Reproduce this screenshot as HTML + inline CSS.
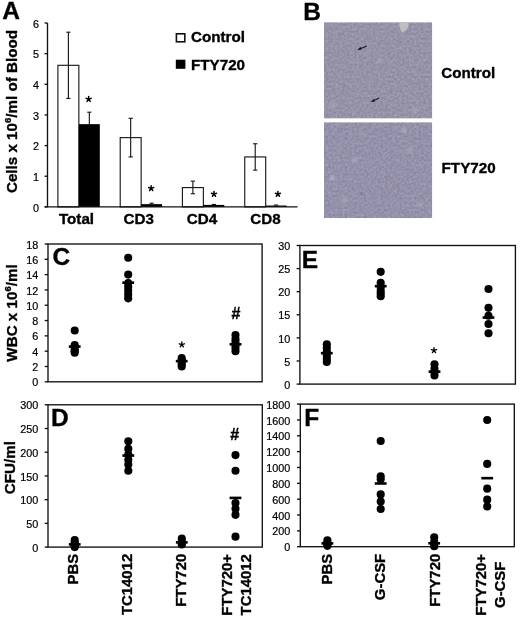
<!DOCTYPE html>
<html><head><meta charset="utf-8"><style>
html,body{margin:0;padding:0;background:#fff;}
svg{display:block;font-family:"Liberation Sans", sans-serif;filter:blur(0.35px);}
.b,.rb{stroke:#000;stroke-width:0.35px;}
.r{stroke:#000;stroke-width:0.2px;}
</style></head><body>
<svg width="520" height="622" viewBox="0 0 520 622">
<defs>
<filter id="tex" x="0" y="0" width="100%" height="100%" color-interpolation-filters="sRGB">
<feTurbulence type="fractalNoise" baseFrequency="0.42" numOctaves="3" seed="11" result="n"/>
<feColorMatrix in="n" type="matrix" values="1 0 0 0 0  1 0 0 0 0  1 0 0 0 0  0 0 0 0 1" result="g"/>
<feComposite in="SourceGraphic" in2="g" operator="arithmetic" k1="0" k2="1" k3="0.17" k4="-0.085" result="c"/>
<feComposite in="c" in2="SourceGraphic" operator="in"/>
</filter>
<filter id="bl2" x="-20%" y="-20%" width="140%" height="140%"><feGaussianBlur stdDeviation="0.5"/></filter>
<filter id="bl" x="-50%" y="-50%" width="200%" height="200%"><feGaussianBlur stdDeviation="0.8"/></filter>
</defs>
<rect width="520" height="622" fill="#fff"/>
<text x="2.20" y="19.00" font-size="24.5" text-anchor="start" font-weight="bold" class="b" >A</text>
<line x1="47.50" y1="23.00" x2="47.50" y2="206.90" stroke="#111" stroke-width="1.35"/>
<line x1="44.60" y1="206.90" x2="47.50" y2="206.90" stroke="#111" stroke-width="1.35"/>
<text x="39.00" y="211.50" font-size="10.8" text-anchor="end" class="r" >0</text>
<line x1="44.60" y1="176.25" x2="47.50" y2="176.25" stroke="#111" stroke-width="1.35"/>
<text x="39.00" y="180.85" font-size="10.8" text-anchor="end" class="r" >1</text>
<line x1="44.60" y1="145.60" x2="47.50" y2="145.60" stroke="#111" stroke-width="1.35"/>
<text x="39.00" y="150.20" font-size="10.8" text-anchor="end" class="r" >2</text>
<line x1="44.60" y1="114.95" x2="47.50" y2="114.95" stroke="#111" stroke-width="1.35"/>
<text x="39.00" y="119.55" font-size="10.8" text-anchor="end" class="r" >3</text>
<line x1="44.60" y1="84.30" x2="47.50" y2="84.30" stroke="#111" stroke-width="1.35"/>
<text x="39.00" y="88.90" font-size="10.8" text-anchor="end" class="r" >4</text>
<line x1="44.60" y1="53.65" x2="47.50" y2="53.65" stroke="#111" stroke-width="1.35"/>
<text x="39.00" y="58.25" font-size="10.8" text-anchor="end" class="r" >5</text>
<line x1="44.60" y1="23.00" x2="47.50" y2="23.00" stroke="#111" stroke-width="1.35"/>
<text x="39.00" y="27.60" font-size="10.8" text-anchor="end" class="r" >6</text>
<rect x="57.90" y="65.30" width="20.95" height="141.60" fill="#fff" stroke="#111" stroke-width="1.1"/>
<line x1="68.38" y1="32.20" x2="68.38" y2="98.40" stroke="#111" stroke-width="1.1"/>
<line x1="66.28" y1="98.40" x2="70.47" y2="98.40" stroke="#111" stroke-width="1.1"/>
<line x1="66.28" y1="32.20" x2="70.47" y2="32.20" stroke="#111" stroke-width="1.1"/>
<rect x="78.85" y="124.15" width="20.95" height="82.75" fill="#000"/>
<line x1="89.32" y1="112.19" x2="89.32" y2="124.15" stroke="#111" stroke-width="1.1"/>
<line x1="87.22" y1="112.19" x2="91.42" y2="112.19" stroke="#111" stroke-width="1.1"/>
<rect x="120.20" y="137.63" width="20.95" height="69.27" fill="#fff" stroke="#111" stroke-width="1.1"/>
<line x1="130.68" y1="118.32" x2="130.68" y2="156.94" stroke="#111" stroke-width="1.1"/>
<line x1="128.58" y1="156.94" x2="132.78" y2="156.94" stroke="#111" stroke-width="1.1"/>
<line x1="128.58" y1="118.32" x2="132.78" y2="118.32" stroke="#111" stroke-width="1.1"/>
<rect x="141.15" y="204.14" width="20.95" height="2.76" fill="#000"/>
<line x1="151.62" y1="203.22" x2="151.62" y2="204.14" stroke="#111" stroke-width="1.1"/>
<line x1="149.53" y1="203.22" x2="153.72" y2="203.22" stroke="#111" stroke-width="1.1"/>
<rect x="182.40" y="187.59" width="20.95" height="19.31" fill="#fff" stroke="#111" stroke-width="1.1"/>
<line x1="192.88" y1="181.15" x2="192.88" y2="193.72" stroke="#111" stroke-width="1.1"/>
<line x1="190.78" y1="193.72" x2="194.97" y2="193.72" stroke="#111" stroke-width="1.1"/>
<line x1="190.78" y1="181.15" x2="194.97" y2="181.15" stroke="#111" stroke-width="1.1"/>
<rect x="203.35" y="204.91" width="20.95" height="1.99" fill="#000"/>
<line x1="213.82" y1="204.45" x2="213.82" y2="204.91" stroke="#111" stroke-width="1.1"/>
<line x1="211.72" y1="204.45" x2="215.92" y2="204.45" stroke="#111" stroke-width="1.1"/>
<rect x="244.75" y="156.94" width="20.95" height="49.96" fill="#fff" stroke="#111" stroke-width="1.1"/>
<line x1="255.22" y1="143.76" x2="255.22" y2="170.12" stroke="#111" stroke-width="1.1"/>
<line x1="253.12" y1="170.12" x2="257.32" y2="170.12" stroke="#111" stroke-width="1.1"/>
<line x1="253.12" y1="143.76" x2="257.32" y2="143.76" stroke="#111" stroke-width="1.1"/>
<rect x="265.70" y="205.52" width="20.95" height="1.38" fill="#000"/>
<line x1="276.18" y1="205.06" x2="276.18" y2="205.52" stroke="#111" stroke-width="1.1"/>
<line x1="274.07" y1="205.06" x2="278.28" y2="205.06" stroke="#111" stroke-width="1.1"/>
<line x1="44.60" y1="206.90" x2="297.60" y2="206.90" stroke="#111" stroke-width="1.4"/>
<path d="M88.65 99.20L88.65 96.55M88.65 99.20L91.17 98.38M88.65 99.20L90.21 101.34M88.65 99.20L87.09 101.34M88.65 99.20L86.13 98.38" stroke="#000" stroke-width="1.5" stroke-linecap="round" fill="none"/>
<path d="M151.15 188.40L151.15 185.75M151.15 188.40L153.67 187.58M151.15 188.40L152.71 190.54M151.15 188.40L149.59 190.54M151.15 188.40L148.63 187.58" stroke="#000" stroke-width="1.5" stroke-linecap="round" fill="none"/>
<path d="M214.00 194.10L214.00 191.45M214.00 194.10L216.52 193.28M214.00 194.10L215.56 196.24M214.00 194.10L212.44 196.24M214.00 194.10L211.48 193.28" stroke="#000" stroke-width="1.5" stroke-linecap="round" fill="none"/>
<path d="M277.90 194.10L277.90 191.45M277.90 194.10L280.42 193.28M277.90 194.10L279.46 196.24M277.90 194.10L276.34 196.24M277.90 194.10L275.38 193.28" stroke="#000" stroke-width="1.5" stroke-linecap="round" fill="none"/>
<text x="76.50" y="223.90" font-size="15.2" text-anchor="middle" font-weight="bold" class="b" >Total</text>
<text x="138.70" y="223.90" font-size="15.2" text-anchor="middle" font-weight="bold" class="b" >CD3</text>
<text x="201.90" y="223.90" font-size="15.2" text-anchor="middle" font-weight="bold" class="b" >CD4</text>
<text x="265.40" y="223.90" font-size="15.2" text-anchor="middle" font-weight="bold" class="b" >CD8</text>
<rect x="176.4" y="33.8" width="8.4" height="8.0" fill="#fff" stroke="#111" stroke-width="1.6"/>
<rect x="175.8" y="59.7" width="9.6" height="9.1" fill="#000"/>
<text x="191.00" y="42.30" font-size="15.2" text-anchor="start" font-weight="bold" class="b" >Control</text>
<text x="191.00" y="69.60" font-size="15.2" text-anchor="start" font-weight="bold" class="b" >FTY720</text>
<text transform="translate(17.2,111.5) rotate(-90)" font-size="15.2" font-weight="bold" class="rb" text-anchor="middle">Cells x 10<tspan font-size="9.5" dy="-6">6</tspan><tspan dy="6">/ml of Blood</tspan></text>
<text x="303.20" y="19.60" font-size="24.5" text-anchor="start" font-weight="bold" class="b" >B</text>
<rect x="324" y="22.3" width="108.2" height="96.2" fill="#9693a8" filter="url(#tex)"/>
<rect x="324" y="122.3" width="108.2" height="95.8" fill="#9492aa" filter="url(#tex)"/>
<circle cx="339.6" cy="34.5" r="1.6" fill="#9a7a88" filter="url(#bl)"/>
<circle cx="398.5" cy="40.5" r="1.5" fill="#9c7f8c" filter="url(#bl)"/>
<circle cx="396.5" cy="46" r="1.3" fill="#a08595" filter="url(#bl)"/>
<circle cx="348.9" cy="71.8" r="1.4" fill="#9a8092" filter="url(#bl)"/>
<circle cx="343.7" cy="86.4" r="1.6" fill="#997b8a" filter="url(#bl)"/>
<circle cx="418.5" cy="82.2" r="1.5" fill="#9c7f8e" filter="url(#bl)"/>
<circle cx="386.3" cy="109.2" r="1.4" fill="#9a8192" filter="url(#bl)"/>
<circle cx="386.3" cy="178.1" r="1.5" fill="#997b8a" filter="url(#bl)"/>
<circle cx="395.6" cy="185.3" r="1.5" fill="#9b7d8b" filter="url(#bl)"/>
<circle cx="372" cy="72" r="1.3" fill="#a08797" filter="url(#bl)"/>
<circle cx="404" cy="130.3" r="2.0" fill="#b3b2c4" filter="url(#bl)"/>
<circle cx="332.3" cy="178" r="2.2" fill="#b2b1c3" filter="url(#bl)"/>
<circle cx="362.4" cy="135.5" r="2.0" fill="#b0afc1" filter="url(#bl)"/>
<circle cx="338.5" cy="146.9" r="2.0" fill="#b0afc1" filter="url(#bl)"/>
<circle cx="355" cy="160" r="2.5" fill="#a6a5ba" filter="url(#bl)"/>
<circle cx="410" cy="150" r="2.5" fill="#a5a4b9" filter="url(#bl)"/>
<circle cx="345" cy="200" r="2.5" fill="#a6a5ba" filter="url(#bl)"/>
<circle cx="420" cy="205" r="2.2" fill="#a5a4b9" filter="url(#bl)"/>
<circle cx="380" cy="60" r="2.5" fill="#a5a3b7" filter="url(#bl)"/>
<circle cx="333" cy="105" r="3" fill="#a3a2b0" filter="url(#bl)"/>
<circle cx="415" cy="110" r="2.5" fill="#a4a3b8" filter="url(#bl)"/>
<circle cx="362.4" cy="136" r="1.1" fill="#5a5a68" filter="url(#bl)"/>
<circle cx="338.5" cy="147.2" r="1.1" fill="#5a5a68" filter="url(#bl)"/>
<circle cx="361.4" cy="193.7" r="1.1" fill="#5a5a68" filter="url(#bl)"/>
<path d="M399.3 22.3 L408.6 22.3 C408.8 26 407.6 29 405.5 30.5 C404.2 31.5 403 32.6 402.2 32.4 C400.2 30 399 26 399.3 22.3 Z" fill="#bcc0c0" filter="url(#bl2)"/>
<line x1="366.80" y1="45.90" x2="359.51" y2="48.94" stroke="#1a1a1a" stroke-width="1.1"/>
<path d="M357.20 49.90L360.54 46.99L361.62 49.58Z" fill="#111"/>
<line x1="379.20" y1="98.10" x2="372.87" y2="101.05" stroke="#1a1a1a" stroke-width="1.1"/>
<path d="M370.60 102.10L373.82 99.06L375.00 101.60Z" fill="#111"/>
<text x="441.20" y="77.80" font-size="15.2" text-anchor="start" font-weight="bold" class="b" >Control</text>
<text x="441.60" y="172.50" font-size="15.2" text-anchor="start" font-weight="bold" class="b" >FTY720</text>
<rect x="48.0" y="244.0" width="214.10" height="137.80" fill="none" stroke="#111" stroke-width="1.35"/>
<line x1="44.70" y1="381.80" x2="48.00" y2="381.80" stroke="#111" stroke-width="1.35"/>
<text x="38.30" y="386.40" font-size="10.8" text-anchor="end" class="r" >0</text>
<line x1="44.70" y1="366.49" x2="48.00" y2="366.49" stroke="#111" stroke-width="1.35"/>
<text x="38.30" y="371.09" font-size="10.8" text-anchor="end" class="r" >2</text>
<line x1="44.70" y1="351.18" x2="48.00" y2="351.18" stroke="#111" stroke-width="1.35"/>
<text x="38.30" y="355.78" font-size="10.8" text-anchor="end" class="r" >4</text>
<line x1="44.70" y1="335.87" x2="48.00" y2="335.87" stroke="#111" stroke-width="1.35"/>
<text x="38.30" y="340.47" font-size="10.8" text-anchor="end" class="r" >6</text>
<line x1="44.70" y1="320.56" x2="48.00" y2="320.56" stroke="#111" stroke-width="1.35"/>
<text x="38.30" y="325.16" font-size="10.8" text-anchor="end" class="r" >8</text>
<line x1="44.70" y1="305.24" x2="48.00" y2="305.24" stroke="#111" stroke-width="1.35"/>
<text x="38.30" y="309.84" font-size="10.8" text-anchor="end" class="r" >10</text>
<line x1="44.70" y1="289.93" x2="48.00" y2="289.93" stroke="#111" stroke-width="1.35"/>
<text x="38.30" y="294.53" font-size="10.8" text-anchor="end" class="r" >12</text>
<line x1="44.70" y1="274.62" x2="48.00" y2="274.62" stroke="#111" stroke-width="1.35"/>
<text x="38.30" y="279.22" font-size="10.8" text-anchor="end" class="r" >14</text>
<line x1="44.70" y1="259.31" x2="48.00" y2="259.31" stroke="#111" stroke-width="1.35"/>
<text x="38.30" y="263.91" font-size="10.8" text-anchor="end" class="r" >16</text>
<line x1="44.70" y1="244.00" x2="48.00" y2="244.00" stroke="#111" stroke-width="1.35"/>
<text x="38.30" y="248.60" font-size="10.8" text-anchor="end" class="r" >18</text>
<text x="52.40" y="265.20" font-size="24.5" text-anchor="start" font-weight="bold" class="b" >C</text>
<circle cx="74.7" cy="330.51" r="4.05"/>
<circle cx="74.7" cy="345.05" r="4.05"/>
<circle cx="74.7" cy="347.35" r="4.05"/>
<circle cx="74.7" cy="349.65" r="4.05"/>
<circle cx="74.7" cy="351.18" r="4.05"/>
<circle cx="74.7" cy="352.71" r="4.05"/>
<rect x="68.80" y="345.28" width="11.8" height="2.6"/>
<circle cx="128.2" cy="257.78" r="4.05"/>
<circle cx="128.2" cy="274.62" r="4.05"/>
<circle cx="128.2" cy="283.04" r="4.05"/>
<circle cx="128.2" cy="286.87" r="4.05"/>
<circle cx="128.2" cy="290.70" r="4.05"/>
<circle cx="128.2" cy="294.53" r="4.05"/>
<circle cx="128.2" cy="298.35" r="4.05"/>
<rect x="122.30" y="281.36" width="11.8" height="2.6"/>
<circle cx="181.7" cy="358.07" r="4.05"/>
<circle cx="181.7" cy="359.60" r="4.05"/>
<circle cx="181.7" cy="361.90" r="4.05"/>
<circle cx="181.7" cy="364.19" r="4.05"/>
<circle cx="181.7" cy="366.49" r="4.05"/>
<rect x="175.80" y="359.83" width="11.8" height="2.6"/>
<circle cx="235.5" cy="335.10" r="4.05"/>
<circle cx="235.5" cy="338.93" r="4.05"/>
<circle cx="235.5" cy="341.99" r="4.05"/>
<circle cx="235.5" cy="345.05" r="4.05"/>
<circle cx="235.5" cy="348.12" r="4.05"/>
<circle cx="235.5" cy="351.18" r="4.05"/>
<rect x="229.60" y="342.99" width="11.8" height="2.6"/>
<path d="M181.80 344.60L181.80 341.90M181.80 344.60L184.37 343.77M181.80 344.60L183.39 346.78M181.80 344.60L180.21 346.78M181.80 344.60L179.23 343.77" stroke="#000" stroke-width="1.35" stroke-linecap="round" fill="none"/>
<text x="236.05" y="318.60" font-size="16" text-anchor="middle" font-weight="bold" class="b" >#</text>
<rect x="299.9" y="245.5" width="215.50" height="138.60" fill="none" stroke="#111" stroke-width="1.35"/>
<line x1="296.60" y1="384.10" x2="299.90" y2="384.10" stroke="#111" stroke-width="1.35"/>
<text x="290.20" y="388.70" font-size="10.8" text-anchor="end" class="r" >0</text>
<line x1="296.60" y1="361.00" x2="299.90" y2="361.00" stroke="#111" stroke-width="1.35"/>
<text x="290.20" y="365.60" font-size="10.8" text-anchor="end" class="r" >5</text>
<line x1="296.60" y1="337.90" x2="299.90" y2="337.90" stroke="#111" stroke-width="1.35"/>
<text x="290.20" y="342.50" font-size="10.8" text-anchor="end" class="r" >10</text>
<line x1="296.60" y1="314.80" x2="299.90" y2="314.80" stroke="#111" stroke-width="1.35"/>
<text x="290.20" y="319.40" font-size="10.8" text-anchor="end" class="r" >15</text>
<line x1="296.60" y1="291.70" x2="299.90" y2="291.70" stroke="#111" stroke-width="1.35"/>
<text x="290.20" y="296.30" font-size="10.8" text-anchor="end" class="r" >20</text>
<line x1="296.60" y1="268.60" x2="299.90" y2="268.60" stroke="#111" stroke-width="1.35"/>
<text x="290.20" y="273.20" font-size="10.8" text-anchor="end" class="r" >25</text>
<line x1="296.60" y1="245.50" x2="299.90" y2="245.50" stroke="#111" stroke-width="1.35"/>
<text x="290.20" y="250.10" font-size="10.8" text-anchor="end" class="r" >30</text>
<text x="301.70" y="267.60" font-size="24.5" text-anchor="start" font-weight="bold" class="b" >E</text>
<circle cx="326.8" cy="344.37" r="4.05"/>
<circle cx="326.8" cy="348.06" r="4.05"/>
<circle cx="326.8" cy="351.76" r="4.05"/>
<circle cx="326.8" cy="355.46" r="4.05"/>
<circle cx="326.8" cy="358.69" r="4.05"/>
<circle cx="326.8" cy="361.92" r="4.05"/>
<rect x="320.90" y="351.85" width="11.8" height="2.6"/>
<circle cx="380.7" cy="271.83" r="4.05"/>
<circle cx="380.7" cy="282.92" r="4.05"/>
<circle cx="380.7" cy="287.08" r="4.05"/>
<circle cx="380.7" cy="290.78" r="4.05"/>
<circle cx="380.7" cy="293.55" r="4.05"/>
<circle cx="380.7" cy="296.32" r="4.05"/>
<rect x="374.80" y="284.86" width="11.8" height="2.6"/>
<circle cx="434.5" cy="364.23" r="4.05"/>
<circle cx="434.5" cy="368.85" r="4.05"/>
<circle cx="434.5" cy="372.09" r="4.05"/>
<circle cx="434.5" cy="375.55" r="4.05"/>
<rect x="428.60" y="370.33" width="11.8" height="2.6"/>
<circle cx="488.5" cy="288.93" r="4.05"/>
<circle cx="488.5" cy="307.87" r="4.05"/>
<circle cx="488.5" cy="315.72" r="4.05"/>
<circle cx="488.5" cy="324.04" r="4.05"/>
<circle cx="488.5" cy="333.28" r="4.05"/>
<rect x="482.60" y="316.27" width="11.8" height="2.6"/>
<path d="M434.00 350.40L434.00 347.70M434.00 350.40L436.57 349.57M434.00 350.40L435.59 352.58M434.00 350.40L432.41 352.58M434.00 350.40L431.43 349.57" stroke="#000" stroke-width="1.35" stroke-linecap="round" fill="none"/>
<rect x="48.0" y="404.8" width="214.30" height="142.30" fill="none" stroke="#111" stroke-width="1.35"/>
<line x1="44.70" y1="547.10" x2="48.00" y2="547.10" stroke="#111" stroke-width="1.35"/>
<text x="38.30" y="551.70" font-size="10.8" text-anchor="end" class="r" >0</text>
<line x1="44.70" y1="523.38" x2="48.00" y2="523.38" stroke="#111" stroke-width="1.35"/>
<text x="38.30" y="527.98" font-size="10.8" text-anchor="end" class="r" >50</text>
<line x1="44.70" y1="499.67" x2="48.00" y2="499.67" stroke="#111" stroke-width="1.35"/>
<text x="38.30" y="504.27" font-size="10.8" text-anchor="end" class="r" >100</text>
<line x1="44.70" y1="475.95" x2="48.00" y2="475.95" stroke="#111" stroke-width="1.35"/>
<text x="38.30" y="480.55" font-size="10.8" text-anchor="end" class="r" >150</text>
<line x1="44.70" y1="452.23" x2="48.00" y2="452.23" stroke="#111" stroke-width="1.35"/>
<text x="38.30" y="456.83" font-size="10.8" text-anchor="end" class="r" >200</text>
<line x1="44.70" y1="428.52" x2="48.00" y2="428.52" stroke="#111" stroke-width="1.35"/>
<text x="38.30" y="433.12" font-size="10.8" text-anchor="end" class="r" >250</text>
<line x1="44.70" y1="404.80" x2="48.00" y2="404.80" stroke="#111" stroke-width="1.35"/>
<text x="38.30" y="409.40" font-size="10.8" text-anchor="end" class="r" >300</text>
<text x="50.90" y="426.20" font-size="24.5" text-anchor="start" font-weight="bold" class="b" >D</text>
<circle cx="74.7" cy="539.99" r="4.05"/>
<circle cx="74.7" cy="542.36" r="4.05"/>
<circle cx="74.7" cy="544.73" r="4.05"/>
<circle cx="74.7" cy="546.15" r="4.05"/>
<circle cx="74.7" cy="547.10" r="4.05"/>
<rect x="68.80" y="543.10" width="11.8" height="2.6"/>
<circle cx="128.3" cy="441.32" r="4.05"/>
<circle cx="128.3" cy="448.91" r="4.05"/>
<circle cx="128.3" cy="454.61" r="4.05"/>
<circle cx="128.3" cy="459.82" r="4.05"/>
<circle cx="128.3" cy="464.57" r="4.05"/>
<circle cx="128.3" cy="470.73" r="4.05"/>
<rect x="122.40" y="454.25" width="11.8" height="2.6"/>
<circle cx="181.8" cy="538.56" r="4.05"/>
<circle cx="181.8" cy="541.41" r="4.05"/>
<circle cx="181.8" cy="543.31" r="4.05"/>
<circle cx="181.8" cy="544.40" r="4.05"/>
<rect x="175.90" y="541.06" width="11.8" height="2.6"/>
<circle cx="235.5" cy="455.08" r="4.05"/>
<circle cx="235.5" cy="470.73" r="4.05"/>
<circle cx="235.5" cy="502.99" r="4.05"/>
<circle cx="235.5" cy="508.68" r="4.05"/>
<circle cx="235.5" cy="514.85" r="4.05"/>
<circle cx="235.5" cy="536.66" r="4.05"/>
<rect x="229.60" y="496.61" width="11.8" height="2.6"/>
<text x="234.75" y="440.40" font-size="16" text-anchor="middle" font-weight="bold" class="b" >#</text>
<rect x="300.3" y="404.1" width="214.00" height="142.60" fill="none" stroke="#111" stroke-width="1.35"/>
<line x1="297.00" y1="546.70" x2="300.30" y2="546.70" stroke="#111" stroke-width="1.35"/>
<text x="290.20" y="551.30" font-size="10.8" text-anchor="end" class="r" >0</text>
<line x1="297.00" y1="530.86" x2="300.30" y2="530.86" stroke="#111" stroke-width="1.35"/>
<text x="290.20" y="535.46" font-size="10.8" text-anchor="end" class="r" >200</text>
<line x1="297.00" y1="515.01" x2="300.30" y2="515.01" stroke="#111" stroke-width="1.35"/>
<text x="290.20" y="519.61" font-size="10.8" text-anchor="end" class="r" >400</text>
<line x1="297.00" y1="499.17" x2="300.30" y2="499.17" stroke="#111" stroke-width="1.35"/>
<text x="290.20" y="503.77" font-size="10.8" text-anchor="end" class="r" >600</text>
<line x1="297.00" y1="483.32" x2="300.30" y2="483.32" stroke="#111" stroke-width="1.35"/>
<text x="290.20" y="487.92" font-size="10.8" text-anchor="end" class="r" >800</text>
<line x1="297.00" y1="467.48" x2="300.30" y2="467.48" stroke="#111" stroke-width="1.35"/>
<text x="290.20" y="472.08" font-size="10.8" text-anchor="end" class="r" >1000</text>
<line x1="297.00" y1="451.63" x2="300.30" y2="451.63" stroke="#111" stroke-width="1.35"/>
<text x="290.20" y="456.23" font-size="10.8" text-anchor="end" class="r" >1200</text>
<line x1="297.00" y1="435.79" x2="300.30" y2="435.79" stroke="#111" stroke-width="1.35"/>
<text x="290.20" y="440.39" font-size="10.8" text-anchor="end" class="r" >1400</text>
<line x1="297.00" y1="419.94" x2="300.30" y2="419.94" stroke="#111" stroke-width="1.35"/>
<text x="290.20" y="424.54" font-size="10.8" text-anchor="end" class="r" >1600</text>
<line x1="297.00" y1="404.10" x2="300.30" y2="404.10" stroke="#111" stroke-width="1.35"/>
<text x="290.20" y="408.70" font-size="10.8" text-anchor="end" class="r" >1800</text>
<text x="304.30" y="426.10" font-size="24.5" text-anchor="start" font-weight="bold" class="b" >F</text>
<circle cx="327.4" cy="540.36" r="4.05"/>
<circle cx="327.4" cy="542.74" r="4.05"/>
<circle cx="327.4" cy="544.32" r="4.05"/>
<circle cx="327.4" cy="545.83" r="4.05"/>
<rect x="321.50" y="542.07" width="11.8" height="2.6"/>
<circle cx="380.7" cy="440.94" r="4.05"/>
<circle cx="380.7" cy="476.19" r="4.05"/>
<circle cx="380.7" cy="479.36" r="4.05"/>
<circle cx="380.7" cy="494.41" r="4.05"/>
<circle cx="380.7" cy="501.62" r="4.05"/>
<circle cx="380.7" cy="508.99" r="4.05"/>
<rect x="374.80" y="482.18" width="11.8" height="2.6"/>
<circle cx="434.2" cy="537.35" r="4.05"/>
<circle cx="434.2" cy="541.95" r="4.05"/>
<circle cx="434.2" cy="545.12" r="4.05"/>
<circle cx="434.2" cy="546.22" r="4.05"/>
<rect x="428.30" y="541.99" width="11.8" height="2.6"/>
<circle cx="487.2" cy="419.94" r="4.05"/>
<circle cx="487.2" cy="463.91" r="4.05"/>
<circle cx="487.2" cy="488.63" r="4.05"/>
<circle cx="487.2" cy="499.64" r="4.05"/>
<circle cx="487.2" cy="506.46" r="4.05"/>
<rect x="481.30" y="476.87" width="11.8" height="2.6"/>
<text transform="translate(16.6,313) rotate(-90)" font-size="15.2" font-weight="bold" class="rb" text-anchor="middle">WBC x 10<tspan font-size="9.5" dy="-6">6</tspan><tspan dy="6">/ml</tspan></text>
<text transform="translate(14.5,467.6) rotate(-90)" font-size="15.2" font-weight="bold" class="rb" text-anchor="middle">CFU/ml</text>
<text transform="translate(78.4,553.8) rotate(-90)" font-size="14.9" font-weight="bold" class="rb" text-anchor="end">PBS</text>
<text transform="translate(132.2,553.8) rotate(-90)" font-size="14.9" font-weight="bold" class="rb" text-anchor="end">TC14012</text>
<text transform="translate(185.5,553.8) rotate(-90)" font-size="14.9" font-weight="bold" class="rb" text-anchor="end">FTY720</text>
<text transform="translate(232.1,584.8) rotate(-90)" font-size="14.9" font-weight="bold" class="rb" text-anchor="middle">FTY720+</text>
<text transform="translate(250.7,584.8) rotate(-90)" font-size="14.9" font-weight="bold" class="rb" text-anchor="middle">TC14012</text>
<text transform="translate(331.5,553.8) rotate(-90)" font-size="14.9" font-weight="bold" class="rb" text-anchor="end">PBS</text>
<text transform="translate(385.4,553.8) rotate(-90)" font-size="14.9" font-weight="bold" class="rb" text-anchor="end">G-CSF</text>
<text transform="translate(439.7,553.8) rotate(-90)" font-size="14.9" font-weight="bold" class="rb" text-anchor="end">FTY720</text>
<text transform="translate(486.3,584.8) rotate(-90)" font-size="14.9" font-weight="bold" class="rb" text-anchor="middle">FTY720+</text>
<text transform="translate(504.7,584.8) rotate(-90)" font-size="14.9" font-weight="bold" class="rb" text-anchor="middle">G-CSF</text>
</svg>
</body></html>
